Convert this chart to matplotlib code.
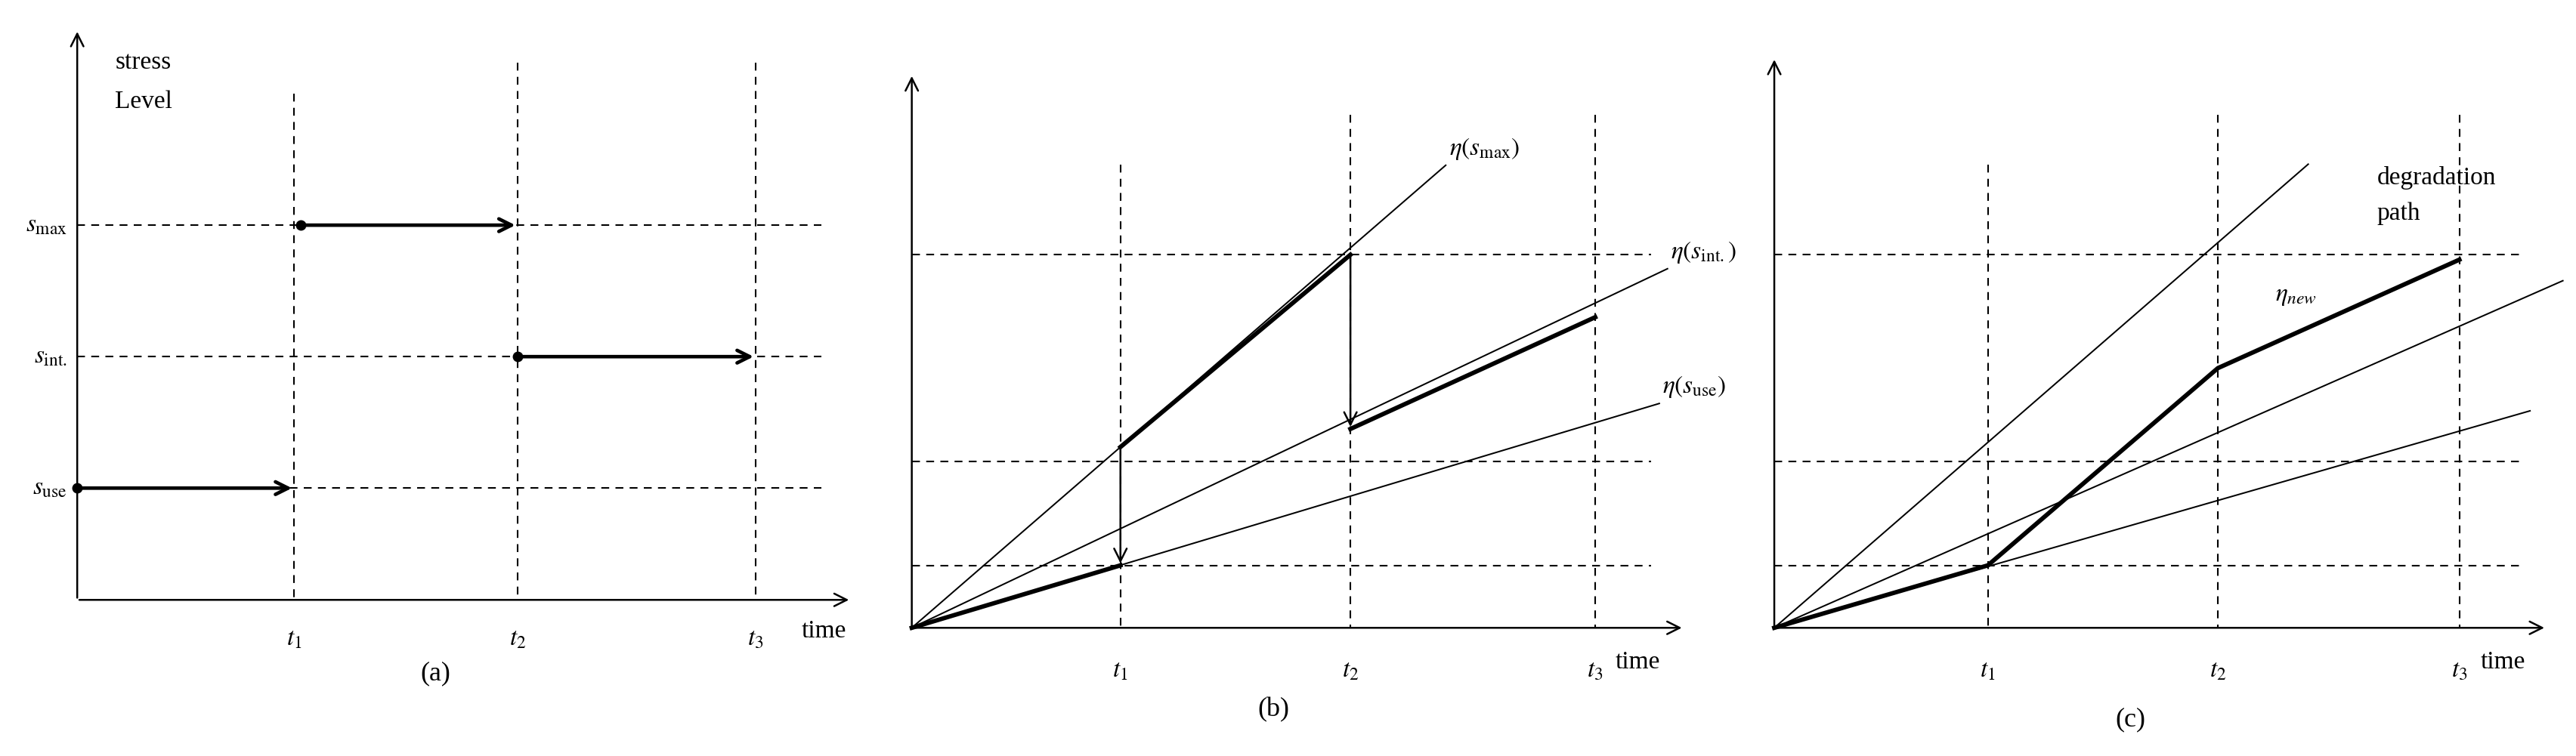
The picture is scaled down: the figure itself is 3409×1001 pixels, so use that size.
import matplotlib
matplotlib.use('Agg')
import matplotlib.pyplot as plt

plt.rcParams['font.family'] = ['Liberation Serif', 'DejaVu Serif']
plt.rcParams['mathtext.fontset'] = 'stix'

fs = 24
thin = 1.8
bold = 4.2
dash = dict(color='black', lw=1.5, ls=(0, (5, 4)))

# positions, in the picture's own pixel scale (1568 x 460)
# panel (a)
a_origin = (47, 365)
a_times = [179, 315, 460]
a_vtop = [57, 38, 38]
a_levels = [137, 217, 297]
a_level_labels = [r'$s_{\mathrm{max}}$', r'$s_{\mathrm{int.}}$', r'$s_{\mathrm{use}}$']
a_steps_start = [183, 315, 47]
a_steps_end = [315, 460, 179]

# panel (b)
b_origin = (555, 382)
b_times = [682, 822, 971]
b_vtop = [100, 70, 70]
b_levels = [155, 281, 344]
b_line_end_x = [880, 1015, 1010]
b_slopes = [0.866, 0.475, 0.30]
b_line_labels = [r'$\eta\left(s_{\mathrm{max}}\right)$', r'$\eta\left(s_{\mathrm{int.}}\right)$',
                 r'$\eta\left(s_{\mathrm{use}}\right)$']
b_path_x = [555, 682, 682, 822, 822, 971]
b_path_y = [382, 344, 272, 155, 261, 193]

# panel (c)
c_origin = (1080, 382)
c_times = [1210, 1350, 1497]
c_vtop = [100, 70, 70]
c_levels = [155, 281, 344]
c_line_end_x = [1405, 1560, 1540]
c_slopes = [0.868, 0.44, 0.287]
c_path_x = [1080, 1210, 1350, 1497]
c_path_y = [382, 344, 224, 158]

fig = plt.figure(figsize=(34.09, 10.01), dpi=100)
ax = fig.add_axes([0, 0, 1, 1])
ax.set_xlim(0, 1568)
ax.set_ylim(460, 0)
ax.axis('off')

def axes_arrows(o, xend, ytop):
    ax.annotate('', xy=(xend, o[1]), xytext=(o[0], o[1]),
                arrowprops=dict(arrowstyle='->', lw=thin, color='black', mutation_scale=30))
    ax.annotate('', xy=(o[0], ytop), xytext=(o[0], o[1]),
                arrowprops=dict(arrowstyle='->', lw=thin, color='black', mutation_scale=30))

def time_labels(times, y, time_x):
    for i, t in enumerate(times):
        ax.text(t, y, r'$t_{%d}$' % (i + 1), fontsize=fs, ha='center', va='center')
    ax.text(time_x, y - 5, 'time', fontsize=fs, ha='left', va='center')

# ---- (a)
axes_arrows(a_origin, 518, 18)
for t, top in zip(a_times, a_vtop):
    ax.plot([t, t], [top, a_origin[1]], **dash)
for lv, lab in zip(a_levels, a_level_labels):
    ax.plot([a_origin[0], 500], [lv, lv], **dash)
    ax.text(a_origin[0] - 6, lv, lab, fontsize=fs, ha='right', va='center')
for x0, x1, lv in zip(a_steps_start, a_steps_end, a_levels):
    ax.plot(x0, lv, 'o', color='black', ms=9)
    ax.annotate('', xy=(x1, lv), xytext=(x0, lv),
                arrowprops=dict(arrowstyle='->', lw=bold * 0.8, color='black', mutation_scale=30))
ax.text(70, 38, 'stress', fontsize=fs, ha='left', va='center')
ax.text(70, 62, 'Level', fontsize=fs, ha='left', va='center')
time_labels(a_times, 389, 488)
ax.text(265, 410, '(a)', fontsize=fs + 2, ha='center', va='center')

# ---- (b)
axes_arrows(b_origin, 1025, 45)
for t, top in zip(b_times, b_vtop):
    ax.plot([t, t], [top, b_origin[1]], **dash)
for lv in b_levels:
    ax.plot([b_origin[0], 1005], [lv, lv], **dash)
for xe, s, lab in zip(b_line_end_x, b_slopes, b_line_labels):
    ye = b_origin[1] - s * (xe - b_origin[0])
    ax.plot([b_origin[0], xe], [b_origin[1], ye], color='black', lw=thin * 0.8)
    ax.text(xe + 2, ye - 10, lab, fontsize=fs, ha='left', va='center')
ax.plot(b_path_x[:2], b_path_y[:2], color='black', lw=bold)
ax.plot(b_path_x[2:4], b_path_y[2:4], color='black', lw=bold)
ax.plot(b_path_x[4:], b_path_y[4:], color='black', lw=bold)
for k in (1, 3):
    ax.annotate('', xy=(b_path_x[k + 1], b_path_y[k + 1] if k == 3 else b_path_y[k]),
                xytext=(b_path_x[k], b_path_y[k + 1] if k == 1 else b_path_y[k]),
                arrowprops=dict(arrowstyle='->', lw=thin, color='black', mutation_scale=30))
time_labels(b_times, 408, 983)
ax.text(775, 432, '(b)', fontsize=fs + 2, ha='center', va='center')

# ---- (c)
axes_arrows(c_origin, 1550, 35)
for t, top in zip(c_times, c_vtop):
    ax.plot([t, t], [top, c_origin[1]], **dash)
for lv in c_levels:
    ax.plot([c_origin[0], 1535], [lv, lv], **dash)
for xe, s in zip(c_line_end_x, c_slopes):
    ye = c_origin[1] - s * (xe - c_origin[0])
    ax.plot([c_origin[0], xe], [c_origin[1], ye], color='black', lw=thin * 0.8)
ax.plot(c_path_x, c_path_y, color='black', lw=bold)
ax.text(1385, 180, r'$\eta_{new}$', fontsize=fs, ha='left', va='center')
ax.text(1447, 108, 'degradation', fontsize=fs, ha='left', va='center')
ax.text(1447, 130, 'path', fontsize=fs, ha='left', va='center')
time_labels(c_times, 408, 1510)
ax.text(1297, 438, '(c)', fontsize=fs + 2, ha='center', va='center')

fig.savefig('out.png', dpi=100)
